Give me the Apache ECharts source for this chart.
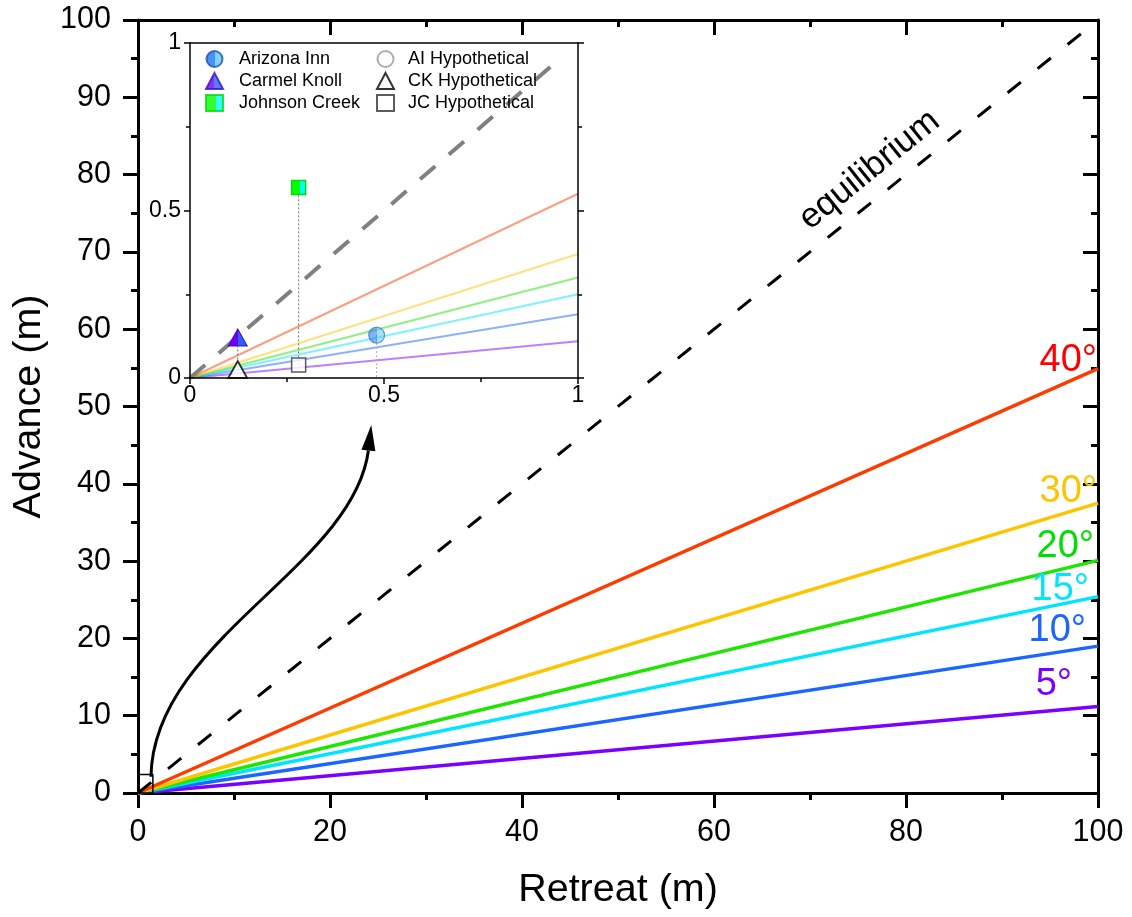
<!DOCTYPE html>
<html>
<head>
<meta charset="utf-8">
<script src="https://cdn.jsdelivr.net/npm/echarts@6/dist/echarts.min.js"></script>
<style>
  html, body { margin: 0; padding: 0; background: #fff; }
  #chart { width: 1132px; height: 917px; }
</style>
</head>
<body>
<div id="chart"></div>
<script>
const FONT = '"Liberation Sans", Arial, sans-serif';

// Slope lines: advance (m) reached at 100 m of retreat, one per slope angle
const angleLabels = ['5°', '10°', '15°', '20°', '30°', '40°'];
const advanceAt100 = [11.2, 19.0, 25.4, 30.1, 37.5, 54.9];
// The same lines over the first metre (inset)
const advanceAt1 = [0.11, 0.19, 0.25, 0.30, 0.37, 0.55];
const lineColors = ['#7a00ff', '#1a66ff', '#00e5ff', '#1ee600', '#ffc400', '#ff3c00'];
const labelColors = ['#7a00ff', '#1a66ff', '#00e5ff', '#00e000', '#ffc400', '#ff0000'];

// Equilibrium: advance equals retreat
const equilibriumMain = [[0, 0], [100, 100]];
const equilibriumInset = [[0, 0], [0.96, 0.96]];

// Observed sites (inset, metres)
const siteNames = ['Arizona Inn', 'Carmel Knoll', 'Johnson Creek'];
const siteRetreat = [0.481, 0.123, 0.280];
const siteAdvance = [0.128, 0.121, 0.569];
// Hypothetical counterparts (AI has no point inside the inset)
const hypoNames = ['AI Hypothetical', 'CK Hypothetical', 'JC Hypothetical'];
const hypoAdvance = [null, 0.025, 0.039];
// Where each dotted drop line ends
const dropEnd = [0, 0.025, 0.039];

// Outline of the zoomed region near the origin (data units)
const zoomBox = [[0, 0], [1.55, 0], [1.55, 2.4], [0, 2.4], [0, 0]];
// Curved arrow from the zoom box to the inset (data units)
const arrowPath = { start: [1.35, 2.1], c1: [1.56, 19.8], c2: [22.4, 29.2], end: [24.0, 44.3], tip: [24.3, 47.6] };

// Placement of the angle labels relative to each line end (px)
const labelOffsets = [[-26, -21.5], [-12, -16], [-9, -7], [-4, -13.5], [-1, -11.5], [-1, -8]];
const equilibriumLabelAt = [76.2, 80.6];

function split(a, b, at) {
  return { type: 'linear', x: 0, y: 0, x2: 1, y2: 0, colorStops: [
    { offset: 0, color: a }, { offset: at, color: a }, { offset: at, color: b }, { offset: 1, color: b }] };
}

const siteStyles = [
  { symbol: 'circle', size: 16, color: split('#1877f2', '#62c8ff', 0.5), border: '#1f4fb0', bw: 1.2, opacity: 0.55 },
  { symbol: 'triangle', size: [19, 17], color: split('#7000f0', '#2a60ff', 0.5), border: '#3c10c0', bw: 1, opacity: 1 },
  { symbol: 'rect', size: 14, color: split('#00ff00', '#00ffff', 0.58), border: '#00dd00', bw: 1.5, opacity: 1 }
];
const hypoStyles = [
  { symbol: 'circle', size: 16, border: '#999', bw: 1.2 },
  { symbol: 'triangle', size: [19, 17], border: '#000', bw: 1.8 },
  { symbol: 'rect', size: 14, border: '#333', bw: 1.5 }
];

const mainLine = { show: true, onZero: false, lineStyle: { color: '#000', width: 3 } };
const insetLine = { show: true, onZero: false, lineStyle: { color: '#000', width: 1.5 } };

function mainAxis(extra) {
  return Object.assign({
    type: 'value', gridIndex: 0, min: 0, max: 100,
    axisLine: mainLine,
    axisTick: { show: true, length: 15, lineStyle: { color: '#000', width: 3 } },
    minorTick: { show: true, splitNumber: 2, length: 7, lineStyle: { color: '#000', width: 3 } },
    splitLine: { show: false },
    axisLabel: { show: true, fontSize: 30, color: '#000', fontFamily: FONT }
  }, extra);
}
function insetAxis(extra) {
  return Object.assign({
    type: 'value', gridIndex: 1, min: 0, max: 1, interval: 0.5,
    axisLine: insetLine,
    axisTick: { show: true, length: 6, lineStyle: { color: '#000', width: 1.5 } },
    minorTick: { show: true, splitNumber: 2, length: 4, lineStyle: { color: '#000', width: 1.5 } },
    splitLine: { show: false },
    axisLabel: { show: true, fontSize: 23, color: '#000', fontFamily: FONT },
    z: 12
  }, extra);
}

const series = [];
// Main plot
angleLabels.forEach((name, i) => {
  series.push({
    name: name, type: 'line', xAxisIndex: 0, yAxisIndex: 0,
    data: [[0, 0], [100, advanceAt100[i]]],
    showSymbol: false, silent: true, z: 2,
    lineStyle: { color: lineColors[i], width: 3.5 }
  });
});
series.push({
  name: 'equilibrium', type: 'line', xAxisIndex: 0, yAxisIndex: 0,
  data: equilibriumMain, showSymbol: false, silent: true, z: 3,
  lineStyle: { color: '#000', width: 3, type: [17, 21.5], cap: 'butt' }
});
series.push({
  name: 'zoom box', type: 'line', xAxisIndex: 0, yAxisIndex: 0,
  data: zoomBox, showSymbol: false, silent: true, z: 4, clip: false,
  lineStyle: { color: '#000', width: 1.5 }
});
// Inset
angleLabels.forEach((name, i) => {
  series.push({
    name: 'inset ' + name, type: 'line', xAxisIndex: 2, yAxisIndex: 2,
    data: [[0, 0], [1, advanceAt1[i]]],
    showSymbol: false, silent: true, z: 6,
    lineStyle: { color: lineColors[i], width: 2, opacity: 0.5 }
  });
});
series.push({
  name: 'inset equilibrium', type: 'line', xAxisIndex: 2, yAxisIndex: 2,
  data: equilibriumInset, showSymbol: false, silent: true, z: 7,
  lineStyle: { color: '#808080', width: 4, type: [20, 18], cap: 'butt' }
});
siteNames.forEach((name, i) => {
  series.push({
    name: 'drop ' + name, type: 'line', xAxisIndex: 2, yAxisIndex: 2,
    data: [[siteRetreat[i], siteAdvance[i]], [siteRetreat[i], dropEnd[i]]],
    showSymbol: false, silent: true, z: 7,
    lineStyle: { color: i === 0 ? '#b0b0b0' : '#707070', width: 1, type: [2, 2] }
  });
});
hypoNames.forEach((name, i) => {
  const st = hypoStyles[i];
  series.push({
    name: name, type: 'scatter', xAxisIndex: 2, yAxisIndex: 2, clip: false, z: 8,
    symbol: st.symbol, symbolSize: st.size,
    itemStyle: { color: '#fff', borderColor: st.border, borderWidth: st.bw },
    data: hypoAdvance[i] === null ? [] : [[siteRetreat[i], hypoAdvance[i]]]
  });
});
siteNames.forEach((name, i) => {
  const st = siteStyles[i];
  series.push({
    name: name, type: 'scatter', xAxisIndex: 2, yAxisIndex: 2, clip: false, z: 9,
    symbol: st.symbol, symbolSize: st.size,
    itemStyle: { color: st.color, borderColor: st.border, borderWidth: st.bw },
    data: [{ value: [siteRetreat[i], siteAdvance[i]], itemStyle: { opacity: st.opacity } }]
  });
});

const legendBase = {
  orient: 'vertical', top: 45, itemWidth: 17, itemHeight: 16, itemGap: 4,
  selectedMode: false, z: 14
};

const option = {
  animation: false,
  backgroundColor: '#fff',
  textStyle: { fontFamily: FONT },
  grid: [
    { left: 138, top: 20, width: 960, height: 773 },
    { left: 190, top: 43, width: 388, height: 335, show: true, backgroundColor: '#fff', borderWidth: 0, z: 5 }
  ],
  xAxis: [
    mainAxis({ position: 'bottom', interval: 20, name: 'Retreat (m)', nameLocation: 'middle', nameGap: 77,
      nameTextStyle: { fontSize: 39.5, color: '#000', fontFamily: FONT }, axisLabel: { show: true, fontSize: 30.5, color: '#000', fontFamily: FONT, margin: 24 } }),
    mainAxis({ position: 'top', interval: 20, axisTick: { show: true, inside: true, length: 15, lineStyle: { color: '#000', width: 3 } },
      minorTick: { show: true, splitNumber: 2, length: 7, lineStyle: { color: '#000', width: 3 } }, axisLabel: { show: false } }),
    insetAxis({ position: 'bottom', axisLabel: { show: true, fontSize: 23, color: '#000', fontFamily: FONT, margin: 6 } }),
    insetAxis({ position: 'top', axisTick: { show: false }, minorTick: { show: false }, axisLabel: { show: false } })
  ],
  yAxis: [
    mainAxis({ position: 'left', interval: 10, name: 'Advance (m)', nameLocation: 'middle', nameGap: 82,
      nameTextStyle: { fontSize: 39.5, color: '#000', fontFamily: FONT }, axisLabel: { show: true, fontSize: 30.5, color: '#000', fontFamily: FONT, margin: 27 } }),
    mainAxis({ position: 'right', interval: 10, axisTick: { show: true, inside: true, length: 15, lineStyle: { color: '#000', width: 3 } },
      minorTick: { show: true, splitNumber: 2, length: 7, lineStyle: { color: '#000', width: 3 } }, axisLabel: { show: false } }),
    insetAxis({ position: 'left', axisLabel: { show: true, fontSize: 23, color: '#000', fontFamily: FONT, margin: 9 } }),
    insetAxis({ position: 'right', axisLabel: { show: false } })
  ],
  legend: [
    Object.assign({}, legendBase, { left: 200, data: siteNames,
      textStyle: { fontSize: 18, color: '#000', fontFamily: FONT, padding: [0, 0, 0, 11] } }),
    Object.assign({}, legendBase, { left: 371, data: hypoNames,
      textStyle: { fontSize: 18, color: '#000', fontFamily: FONT, padding: [0, 0, 0, 9] } })
  ],
  series: series
};

const chart = echarts.init(document.getElementById('chart'), null, { renderer: 'canvas' });
chart.setOption(option);

// Annotations placed through the main grid's scales
const px = p => chart.convertToPixel({ gridIndex: 0 }, p);
const graphic = [];
const s = px(arrowPath.start), c1 = px(arrowPath.c1), c2 = px(arrowPath.c2), e = px(arrowPath.end), t = px(arrowPath.tip);
const dx = t[0] - e[0], dy = t[1] - e[1], len = Math.hypot(dx, dy);
const nx = -dy / len, ny = dx / len, hw = 7;
graphic.push({
  type: 'bezierCurve', z: 20, silent: true,
  shape: { x1: s[0], y1: s[1], cpx1: c1[0], cpy1: c1[1], cpx2: c2[0], cpy2: c2[1], x2: e[0], y2: e[1] },
  style: { stroke: '#000', lineWidth: 3, fill: 'none' }
});
graphic.push({
  type: 'polygon', z: 20, silent: true,
  shape: { points: [t, [e[0] + nx * hw, e[1] + ny * hw], [e[0] - nx * hw, e[1] - ny * hw]] },
  style: { fill: '#000' }
});
angleLabels.forEach((txt, i) => {
  const p = px([100, advanceAt100[i]]);
  graphic.push({
    type: 'text', z: 20, silent: true,
    x: p[0] + labelOffsets[i][0], y: p[1] + labelOffsets[i][1],
    style: { text: txt, fill: labelColors[i], fontSize: 38, fontFamily: FONT, align: 'right', verticalAlign: 'middle' }
  });
});
const eqp = px(equilibriumLabelAt);
const o = px([0, 0]), q = px([100, 100]);
graphic.push({
  type: 'text', z: 20, silent: true, x: eqp[0], y: eqp[1],
  rotation: Math.atan2(o[1] - q[1], q[0] - o[0]),
  style: { text: 'equilibrium', fill: '#000', fontSize: 35, fontFamily: FONT, align: 'center', verticalAlign: 'middle' }
});
chart.setOption({ graphic: graphic });
</script>
</body>
</html>
